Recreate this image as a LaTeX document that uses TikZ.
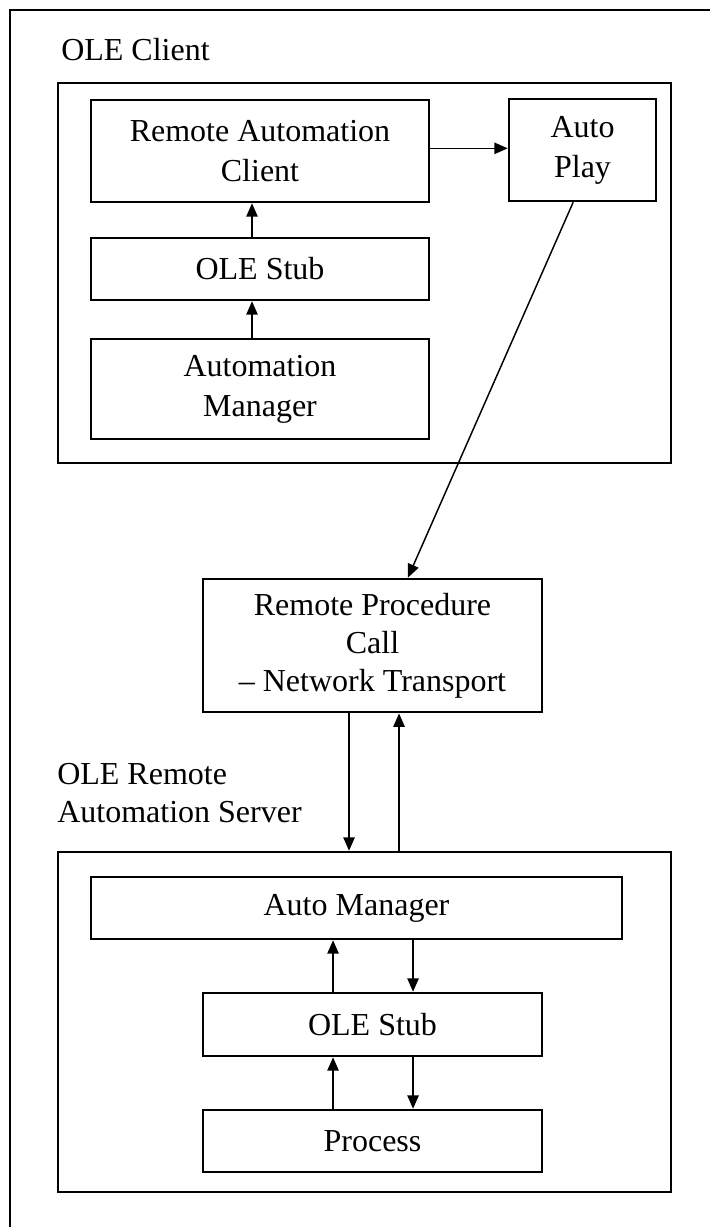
\documentclass[tikz,border=0pt]{standalone}
\usepackage{fontspec}
\setmainfont{Liberation Serif}
\usetikzlibrary{arrows.meta,calc}
\begin{document}
\begin{tikzpicture}[x=0.75pt,y=-0.75pt,
  box/.style={draw, line width=1.9pt, inner sep=0pt, align=center, font=\fontsize{24}{30}\selectfont},
  rpcbox/.style={box, font=\fontsize{24}{28.5}\selectfont},
  frame/.style={draw, line width=1.9pt, inner sep=0pt},
  arr/.style={line width=1.1pt, -{Triangle[length=10pt,width=8.5pt]}},
  lbl/.style={inner sep=0pt, align=left, font=\fontsize{24}{28}\selectfont}]
\useasboundingbox (0,0) rectangle (710,1227);
% outer frame
\coordinate (fbl) at (10,1227);
\coordinate (ftl) at (10,10);
\coordinate (ftr) at (710,10);
\draw[line width=1.7pt] (fbl) -- (ftl) -- (ftr);
% client
\node[frame, minimum width=459.75pt, minimum height=285pt] (client) at (364.5,273) {};
\node[lbl, anchor=base west] (lc) at (61,61) {OLE Client};
\node[box, minimum width=253.5pt, minimum height=76.5pt] (rac) at (260,151) {Remote Automation\\Client};
\node[box, minimum width=110.25pt, minimum height=76.5pt] (ap) at (582.5,150) {Auto\\Play};
\node[box, minimum width=253.5pt, minimum height=46.5pt] (stub1) at (260,269) {OLE Stub};
\node[box, minimum width=253.5pt, minimum height=75pt] (am) at (260,389) {Automation\\Manager};
% rpc
\node[rpcbox, minimum width=254.25pt, minimum height=100pt] (rpc) at (372.5,645.5) {Remote Procedure\\Call\\– Network Transport};
% server
\node[lbl, anchor=base west] (ls) at (57,822) {OLE Remote\\Automation Server};
\node[frame, minimum width=459.75pt, minimum height=255pt] (server) at (364.5,1022) {};
\node[box, minimum width=398.25pt, minimum height=46.5pt] (amgr) at (356.5,908) {Auto Manager};
\node[box, minimum width=254.25pt, minimum height=47.25pt] (stub2) at (372.5,1024.5) {OLE Stub};
\node[box, minimum width=254.25pt, minimum height=46.5pt] (proc) at (372.5,1141) {Process};
% arrows client
\draw[arr] ([yshift=2pt]rac.east) -- ([yshift=2pt]rac.east -| ap.west);
\draw[arr] ([xshift=-6pt]stub1.north) -- ([xshift=-6pt]rac.south);
\draw[arr] ([xshift=-6pt]am.north) -- ([xshift=-6pt]stub1.south);
\draw[arr] ([xshift=-7pt]ap.south) -- ([xshift=26.6pt]rpc.north);
% rpc <-> server
\draw[arr] ([xshift=-17.6pt]rpc.south) -- ($(rpc.south |- server.north)+(-17.6pt,0)$);
\draw[arr] ($(rpc.south |- server.north)+(19.9pt,0)$) -- ([xshift=19.9pt]rpc.south);
% server internal
\draw[arr] ([xshift=-29.6pt]stub2.north) -- ($(stub2.north |- amgr.south)+(-29.6pt,0)$);
\draw[arr] ($(stub2.north |- amgr.south)+(30.4pt,0)$) -- ([xshift=30.4pt]stub2.north);
\draw[arr] ([xshift=-29.6pt]proc.north) -- ($(proc.north |- stub2.south)+(-29.6pt,0)$);
\draw[arr] ($(proc.north |- stub2.south)+(30.4pt,0)$) -- ([xshift=30.4pt]proc.north);
\end{tikzpicture}
\end{document}
